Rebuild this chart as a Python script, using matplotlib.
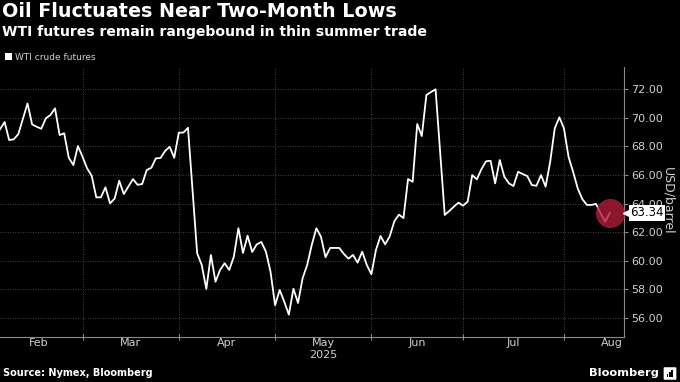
#!/usr/bin/env python3
"""
WTI crude futures chart, Bloomberg style (dark theme).
"""
import matplotlib
matplotlib.use("Agg")
import matplotlib.pyplot as plt
import matplotlib.patches as patches
import matplotlib.transforms as mtransforms

# WTI crude futures, one value per trading session (Feb 4 .. mid Aug 2025)
wti = [
    69.19, 69.70, 68.44, 68.49, 68.86, 69.93, 71.00, 69.54, 69.37, 69.23,
    69.96, 70.19, 70.66, 68.79, 68.91, 67.20, 66.69, 68.02, 67.27, 66.46,
    65.94, 64.43, 64.43, 65.13, 64.01, 64.34, 65.59, 64.66, 65.18, 65.71,
    65.31, 65.36, 66.34, 66.50, 67.16, 67.18, 67.67, 67.97, 67.20, 68.96,
    68.96, 69.30, 64.90, 60.52, 59.70, 58.02, 60.40, 58.53, 59.35, 59.82,
    59.35, 60.28, 62.27, 60.54, 61.75, 60.61, 61.14, 61.31, 60.63, 59.23,
    56.88, 57.95, 57.13, 56.22, 58.04, 57.04, 58.77, 59.70, 61.10, 62.27,
    61.68, 60.24, 60.89, 60.89, 60.89, 60.47, 60.14, 60.40, 59.86, 60.63,
    59.70, 59.05, 60.75, 61.73, 61.14, 61.70, 62.75, 63.22, 62.98, 65.71,
    65.52, 69.56, 68.72, 71.59, 71.80, 71.99, 67.60, 63.20, 63.48, 63.78,
    64.06, 63.85, 64.13, 65.99, 65.69, 66.40, 66.95, 66.99, 65.41, 67.04,
    65.87, 65.41, 65.22, 66.22, 66.06, 65.92, 65.29, 65.24, 65.99, 65.18,
    66.92, 69.26, 70.03, 69.26, 67.27, 66.22, 65.06, 64.31, 63.90, 63.90,
    63.97, 63.31, 62.73, 63.34,
]
last_label = "63.34"

# x axis: trading sessions per month, first month starts one session before index 0
months = ["Feb", "Mar", "Apr", "May", "Jun", "Jul", "Aug"]
month_sessions = [19, 21, 21, 21, 20, 22, 21]
first_start = -1
year_label = "2025"

y_ticks = [56, 58, 60, 62, 64, 66, 68, 70, 72]

W, H = 680, 382
XMAX = 136.1
fig = plt.figure(figsize=(W / 100, H / 100), dpi=100, facecolor="black")
ax = fig.add_axes([0, 45 / H, 624 / W, 270 / H])
ax.set_facecolor("black")

x = list(range(len(wti)))
ax.plot(x, wti, color="white", lw=1.3, zorder=3)

# month boundaries and label centres
bounds = [first_start]
for n in month_sessions:
    bounds.append(bounds[-1] + n)
mids = [(a + b) / 2 for a, b in zip(bounds[:-1], bounds[1:])]

ax.set_xlim(0, XMAX)
ax.set_ylim(54.66, 73.55)

ax.set_xticks([b for b in bounds if 0 < b < XMAX])
ax.set_xticks(mids, minor=True)
ax.set_xticklabels(months, minor=True)
ax.tick_params(axis="x", which="major", labelbottom=False, length=4,
               direction="inout", color="#8a8a8a", width=0.8)
ax.tick_params(axis="x", which="minor", length=0, pad=1,
               labelsize=8, labelcolor="#d0d0d0")

ax.yaxis.tick_right()
ax.set_yticks(y_ticks)
ax.set_yticklabels([f"{v:.2f}" for v in y_ticks])
ax.tick_params(axis="y", length=3, width=0.8, color="#8a8a8a", pad=2,
               labelsize=8, labelcolor="#d0d0d0")

ax.grid(True, which="major", color="#5a5a5a", ls=(0, (1, 2)), lw=0.6)

for side in ("left", "top"):
    ax.spines[side].set_visible(False)
for side in ("right", "bottom"):
    ax.spines[side].set_color("#8a8a8a")
    ax.spines[side].set_linewidth(0.8)

# red marker on the latest value
ax.plot([x[-1]], [wti[-1]], marker="o", ms=21, mfc="#b01c36", mec="none",
        alpha=0.8, zorder=4)

# latest value tag on the right axis
edge = mtransforms.blended_transform_factory(ax.transAxes, ax.transData)
ax.plot([1.0], [wti[-1]], marker="<", ms=5.5, color="white", clip_on=False,
        zorder=6,
        transform=mtransforms.offset_copy(edge, fig=fig, x=3, y=0, units="dots"))
ax.text(1.0, wti[-1], last_label, ha="left", va="center", fontsize=8.5,
        color="black", clip_on=False, zorder=6,
        transform=mtransforms.offset_copy(edge, fig=fig, x=6, y=0, units="dots"),
        bbox=dict(boxstyle="square,pad=0.12", fc="white", ec="none"))

fig.text(668 / W, 1 - 201 / H, "USD/barrel", rotation=270, ha="center",
         va="center", fontsize=9, color="#d0d0d0")

fig.text(mids[3] / XMAX * 624 / W, 1 - 355 / H, year_label, ha="center",
         va="center", fontsize=8, color="#d0d0d0")

# titles
fig.text(2 / W, 1 - 2 / H, "Oil Fluctuates Near Two-Month Lows", ha="left",
         va="top", fontsize=13.8, fontweight="bold", color="white")
fig.text(2 / W, 1 - 25 / H, "WTI futures remain rangebound in thin summer trade",
         ha="left", va="top", fontsize=10.1, fontweight="bold", color="white")

# legend
fig.patches.append(patches.Rectangle((5 / W, 1 - 60 / H), 7 / W, 7 / H,
                                     transform=fig.transFigure, fc="white",
                                     ec="none"))
fig.text(15 / W, 1 - 57 / H, "WTI crude futures", ha="left", va="center",
         fontsize=6.5, color="#d0d0d0")

# footer
fig.text(3 / W, 1 - 373 / H, "Source: Nymex, Bloomberg", ha="left",
         va="center", fontsize=7, fontweight="bold", color="white")
fig.text(659 / W, 1 - 373 / H, "Bloomberg", ha="right", va="center",
         fontsize=8.2, fontweight="bold", color="white")
fig.patches.append(patches.FancyBboxPatch((665 / W, 1 - 379 / H), 10 / W, 11 / H,
                                          boxstyle="round,pad=0.002",
                                          transform=fig.transFigure,
                                          fc="white", ec="none"))
for i, hgt in enumerate([3, 5, 7]):
    fig.patches.append(patches.Rectangle(((667 + 2.2 * i) / W, 1 - 377 / H),
                                         1.3 / W, hgt / H,
                                         transform=fig.transFigure,
                                         fc="black", ec="none"))

fig.savefig("out.png", dpi=100, facecolor="black")
